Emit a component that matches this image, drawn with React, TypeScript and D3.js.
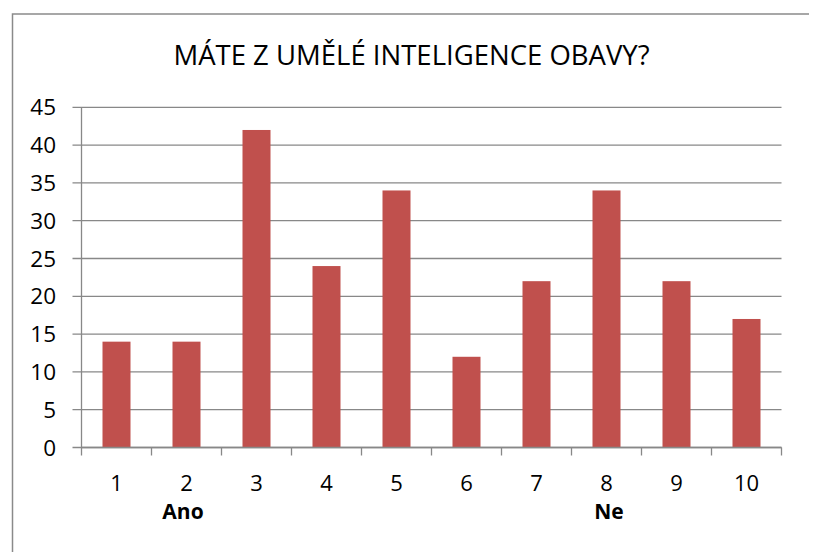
import React from "react";
import * as d3 from "d3";

const categories = ["1", "2", "3", "4", "5", "6", "7", "8", "9", "10"];
const values = [14, 14, 42, 24, 34, 12, 22, 34, 22, 17];
const groupLabels = [
  { label: "Ano", at: "2" },
  { label: "Ne", at: "8" },
];
const yTicks = [0, 5, 10, 15, 20, 25, 30, 35, 40, 45];
const title = "MÁTE Z UMĚLÉ INTELIGENCE OBAVY?";

const W = 817;
const H = 560;
const FONT = "'Open Sans', 'Noto Sans', sans-serif";

export default function App() {
  const left = 81.5;
  const right = 781.5;
  const top = 107.3;
  const bottom = 447.5;

  const x = d3.scaleBand<string>().domain(categories).range([left, right]).paddingInner(0.6).paddingOuter(0.3);
  const xOuter = d3.scaleBand<string>().domain(categories).range([left, right]);
  const y = d3.scaleLinear().domain([0, 45]).range([bottom, top]);

  const grid = "#888888";
  const groupDx = [-3.5, 2.5];

  return (
    <div style={{ margin: "-8px" }}>
      <svg width={W} height={H} style={{ display: "block" }}>
        <rect x={0} y={0} width={W} height={H} fill="#fff" />
        <rect x={12.5} y={14} width={798} height={560} fill="#fff" stroke="#8a8a8a" strokeWidth={1.5} />
        <text x={411.5} y={65} textAnchor="middle" fontFamily={FONT} fontSize={27.5} fill="#000">
          {title}
        </text>
        {yTicks.map((t) => (
          <g key={t}>
            <line x1={left - 9} x2={right} y1={y(t)} y2={y(t)} stroke={grid} strokeWidth={1.3} />
            <text x={56} y={y(t) + 8} textAnchor="end" fontFamily={FONT} fontSize={22.5} fill="#000">
              {t}
            </text>
          </g>
        ))}
        {categories.map((c, i) => (
          <rect key={c} x={x(c)} y={y(values[i])} width={x.bandwidth()} height={y(0) - y(values[i])} fill="#C0504D" />
        ))}
        <line x1={left} x2={left} y1={top} y2={bottom + 8} stroke={grid} strokeWidth={1.3} />
        <line x1={left} x2={right} y1={bottom} y2={bottom} stroke={grid} strokeWidth={1.3} />
        {categories.map((c) => (
          <line key={"t" + c} x1={(xOuter(c) as number) + xOuter.bandwidth()} x2={(xOuter(c) as number) + xOuter.bandwidth()} y1={bottom} y2={bottom + 8} stroke={grid} strokeWidth={1.3} />
        ))}
        {categories.map((c) => (
          <text key={"l" + c} x={(xOuter(c) as number) + xOuter.bandwidth() / 2} y={490.5} textAnchor="middle" fontFamily={FONT} fontSize={22} fill="#000">
            {c}
          </text>
        ))}
        {groupLabels.map((g, i) => (
          <text key={g.label} x={(xOuter(g.at) as number) + xOuter.bandwidth() / 2 + groupDx[i]} y={519} textAnchor="middle" fontFamily={FONT} fontSize={21} fontWeight="bold" fill="#000">
            {g.label}
          </text>
        ))}
      </svg>
    </div>
  );
}
